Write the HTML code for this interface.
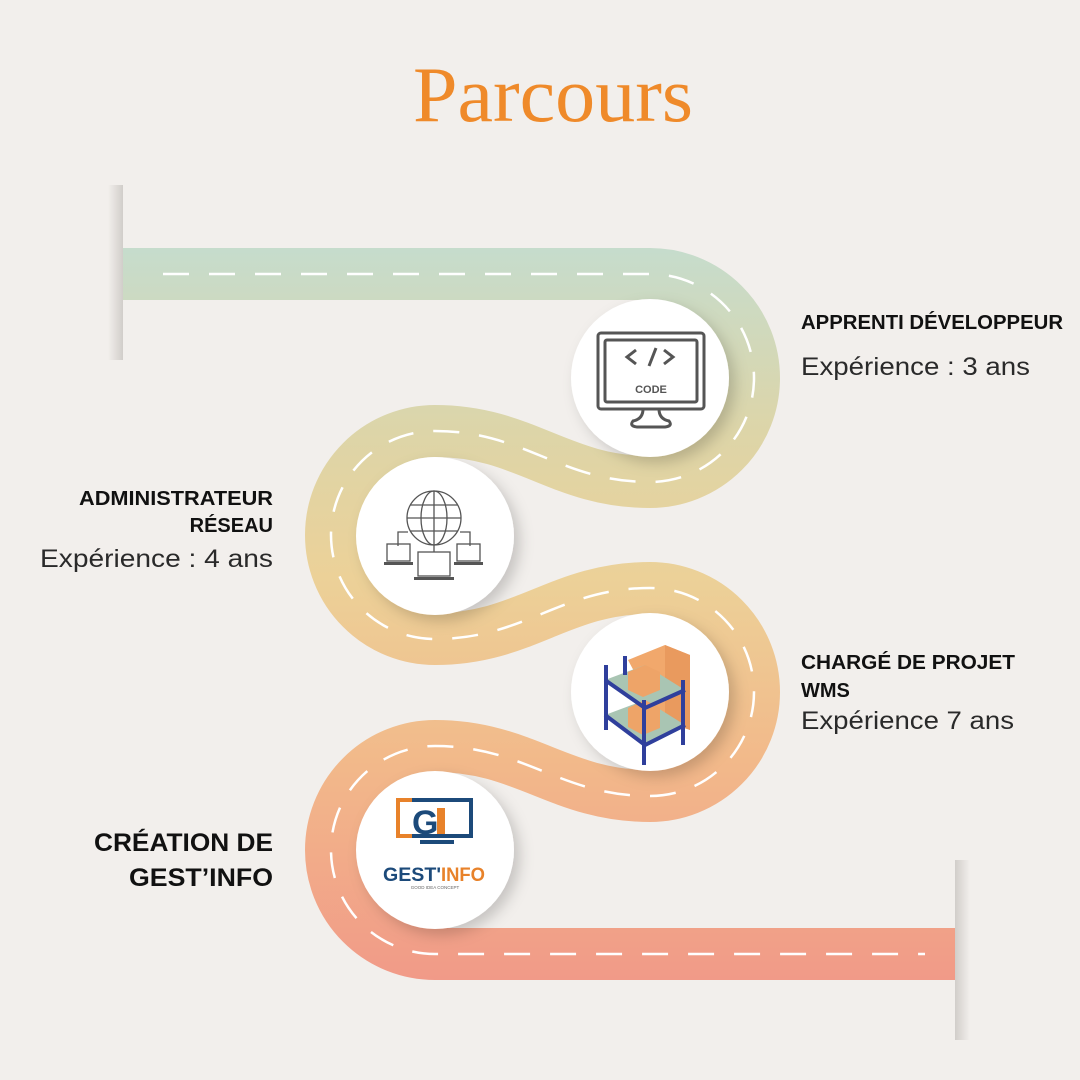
<!DOCTYPE html>
<html><head><meta charset="utf-8"><style>
html,body{margin:0;padding:0;background:#f2efec;}
svg{display:block}
.b{font-family:"Liberation Sans",sans-serif;font-weight:bold;fill:#111;}
.r{font-family:"Liberation Sans",sans-serif;fill:#2a2a2a;}
</style></head><body>
<svg width="1080" height="1080" viewBox="0 0 1080 1080" xmlns="http://www.w3.org/2000/svg">
<defs>
<linearGradient id="rg" gradientUnits="userSpaceOnUse" x1="0" y1="250" x2="0" y2="980">
<stop offset="0" stop-color="#c6dccc"/>
<stop offset="0.25" stop-color="#ddd5a8"/>
<stop offset="0.45" stop-color="#ecd198"/>
<stop offset="0.7" stop-color="#f2b98a"/>
<stop offset="1" stop-color="#f19a88"/>
</linearGradient>
<linearGradient id="shL" x1="0" y1="0" x2="1" y2="0">
<stop offset="0" stop-color="#f2efec"/><stop offset="1" stop-color="#c9c5c1"/>
</linearGradient>
<linearGradient id="shR" x1="0" y1="0" x2="1" y2="0">
<stop offset="0" stop-color="#c9c5c1"/><stop offset="1" stop-color="#f2efec"/>
</linearGradient>
<filter id="ds" x="-30%" y="-30%" width="160%" height="160%"><feDropShadow dx="6" dy="6" stdDeviation="7" flood-color="#000" flood-opacity="0.18"/></filter>
</defs>
<rect width="1080" height="1080" fill="#f2efec"/>
<text x="553" y="121" text-anchor="middle" font-family="Liberation Serif,serif" font-size="78" fill="#ef8a2a" textLength="280" lengthAdjust="spacingAndGlyphs">Parcours</text>
<rect x="108" y="185" width="15" height="175" fill="url(#shL)" opacity="0.8"/>
<rect x="955" y="860" width="15" height="180" fill="url(#shR)" opacity="0.8"/>
<path d="M123,274 H650 A104,104 0 0 1 650,482 C560,482 525,431 435,431 A104,104 0 0 0 435,639 C525,639 560,588 650,588 A104,104 0 0 1 650,796 C560,796 525,746 435,746 A104,104 0 0 0 435,954 H955" fill="none" stroke="url(#rg)" stroke-width="52"/>
<path d="M163,274 H650 A104,104 0 0 1 650,482 C560,482 525,431 435,431 A104,104 0 0 0 435,639 C525,639 560,588 650,588 A104,104 0 0 1 650,796 C560,796 525,746 435,746 A104,104 0 0 0 435,954 H925" fill="none" stroke="#fff" stroke-width="2.5" stroke-dasharray="26 20"/>
<g filter="url(#ds)" fill="#fff">
<circle cx="650" cy="378" r="79"/>
<circle cx="435" cy="536" r="79"/>
<circle cx="650" cy="692" r="79"/>
<circle cx="435" cy="850" r="79"/>
</g>
<g fill="none" stroke="#555" stroke-width="3">
<rect x="598" y="333" width="106" height="76" rx="3"/>
<rect x="605" y="340" width="92" height="62" rx="2"/>
<path d="M643,409 q0,10 -10,12 q-4,5 4,6 h28 q8,-1 4,-6 q-10,-2 -10,-12"/>
<path d="M636,350 l-9,7 9,7 M656,348 l-7,18 M664,350 l9,7 -9,7"/>
</g>
<text x="651" y="393" text-anchor="middle" font-family="Liberation Sans,sans-serif" font-weight="bold" font-size="11" fill="#555">CODE</text>
<g fill="none" stroke="#555" stroke-width="1.3">
<circle cx="434" cy="518" r="27"/>
<ellipse cx="434" cy="518" rx="13" ry="27"/>
<path d="M434,491 V545 M407,518 H461 M410,505 H458 M410,531 H458"/>
<path d="M398,546 V532 H408 M470,546 V532 H460 M434,545 V552"/>
<rect x="387" y="544" width="23" height="17"/>
<rect x="457" y="544" width="23" height="17"/>
<rect x="418" y="552" width="32" height="24"/>
</g>
<g fill="#555"><rect x="384" y="562" width="29" height="3"/><rect x="454" y="562" width="29" height="3"/><rect x="414" y="577" width="40" height="3"/></g>
<g>
<polygon points="628,660 665,645 690,655 690,730 660,720" fill="#f1a86c"/>
<polygon points="665,645 690,655 690,730 665,720" fill="#e99a5e"/>
<polygon points="605,680 645,665 685,690 645,708" fill="#a9c5b3"/>
<polygon points="605,715 645,700 685,725 645,745" fill="#a9c5b3"/>
<polygon points="628,672 645,665 660,672 660,690 643,697 628,690" fill="#eea468"/>
<polygon points="628,708 645,700 660,708 660,728 643,735 628,727" fill="#eea468"/>
<g stroke="#2f3f9c" stroke-width="4" fill="none">
<path d="M606,665 V730 M644,700 V765 M683,680 V745 M625,656 V675"/>
<path d="M605,680 L645,708 685,690 M605,715 L645,745 685,725"/>
</g>
</g>
<g>
<path d="M412,800 h-14 v36 h14" fill="none" stroke="#e8822a" stroke-width="4"/>
<path d="M412,800 h59 v36 h-59" fill="none" stroke="#1c4a7a" stroke-width="4"/>
<text x="412" y="834" font-family="Liberation Sans,sans-serif" font-weight="bold" font-size="34" fill="#1c4a7a">G</text>
<rect x="437" y="808" width="8" height="26" fill="#e8822a"/>
<rect x="420" y="840" width="34" height="4" fill="#1c4a7a"/>
<text x="383" y="881" font-family="Liberation Sans,sans-serif" font-weight="bold" font-size="19" fill="#1c4a7a" textLength="58" lengthAdjust="spacingAndGlyphs">GEST'</text>
<text x="441" y="881" font-family="Liberation Sans,sans-serif" font-weight="bold" font-size="19" fill="#e8822a" textLength="44" lengthAdjust="spacingAndGlyphs">INFO</text>
<text x="435" y="889" text-anchor="middle" font-family="Liberation Sans,sans-serif" font-size="4.5" fill="#666">GOOD IDEA CONCEPT</text>
</g>
<text class="b" x="801" y="329" font-size="20" textLength="262" lengthAdjust="spacingAndGlyphs">APPRENTI DÉVELOPPEUR</text>
<text class="r" x="801" y="375" font-size="25" textLength="229" lengthAdjust="spacingAndGlyphs">Expérience : 3 ans</text>
<text class="b" x="273" y="505" font-size="20" text-anchor="end" textLength="194" lengthAdjust="spacingAndGlyphs">ADMINISTRATEUR</text>
<text class="b" x="273" y="532" font-size="20" text-anchor="end">RÉSEAU</text>
<text class="r" x="273" y="567" font-size="25" text-anchor="end" textLength="233" lengthAdjust="spacingAndGlyphs">Expérience : 4 ans</text>
<text class="b" x="801" y="669" font-size="20" textLength="214" lengthAdjust="spacingAndGlyphs">CHARGÉ DE PROJET</text>
<text class="b" x="801" y="697" font-size="20">WMS</text>
<text class="r" x="801" y="729" font-size="25" textLength="213" lengthAdjust="spacingAndGlyphs">Expérience 7 ans</text>
<text class="b" x="273" y="851" font-size="25" text-anchor="end" textLength="179" lengthAdjust="spacingAndGlyphs">CRÉATION DE</text>
<text class="b" x="273" y="886" font-size="25" text-anchor="end" textLength="144" lengthAdjust="spacingAndGlyphs">GEST’INFO</text>
</svg>
</body></html>
